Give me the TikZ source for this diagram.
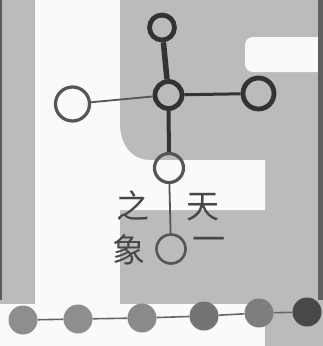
\documentclass[tikz,border=0pt]{standalone}
\usepackage{fontspec}
\newfontfamily\cjk{Noto Sans CJK TC}
\definecolor{paper}{HTML}{BBBBBB}
\definecolor{white2}{HTML}{FAFAFA}
\definecolor{ink}{HTML}{333333}
\definecolor{inkl}{HTML}{555555}
\begin{document}
\begin{tikzpicture}[x=1pt,y=-1pt,
  ring/.style={circle,draw=ink,line width=4.8pt,minimum size=27pt,inner sep=0pt},
  thinring/.style={circle,draw=inkl,line width=3.2pt,minimum size=29pt,inner sep=0pt},
  dot/.style={circle,minimum size=29pt,inner sep=0pt},
  glyph/.style={font=\cjk\fontsize{33}{33}\selectfont,text=ink!90,inner sep=0pt}]
\useasboundingbox (0,0) rectangle (323,346);
% background
\fill[paper] (0,0) rectangle (323,346);
\fill[white2] (35,0) rectangle (120,305);
\fill[white2] (120,127) .. controls (122,150) and (135,160) .. (150,160) -- (265,160) -- (265,210) -- (120,210) -- cycle;
\fill[white2, rounded corners=8pt] (245,37) rectangle (330,72);
\fill[white2] (0,304) rectangle (265,346);
\fill[gray!75!black] (318,0) rectangle (323,300);
\fill[gray!70!black] (0,0) rectangle (2,300);
% upper figure
\node[ring] (c) at (168.5,95) {};
\node[ring,minimum size=25pt] (t) at (162,27.5) {};
\node[ring,minimum size=31pt] (r) at (258.5,93.5) {};
\node[thinring,minimum size=34pt] (l) at (72.5,104) {};
\node[thinring] (lo) at (169,168) {};
\node[thinring,line width=2.6pt] (b) at (171,249) {};
\draw[ink,line width=5.5pt] (t) -- (c);
\draw[ink,line width=3pt] (c) -- (r);
\draw[inkl,line width=1.8pt] (c) -- (l);
\draw[ink,line width=4pt] (c) -- (lo);
\draw[inkl,line width=1.8pt] (lo) -- (b);
% labels
\node[glyph] (tian) at (203,207) {天};
\node[glyph] (yi) at (209,244) {一};
\node[glyph] (zhi) at (133,206) {之};
\node[glyph] (xiang) at (129,250) {象};
% bottom row
\definecolor{d1c}{HTML}{8E8E8E}
\definecolor{d3c}{HTML}{8A8A8A}
\definecolor{d4c}{HTML}{747474}
\definecolor{d5c}{HTML}{7E7E7E}
\definecolor{d6c}{HTML}{484848}
\node[dot,fill=d1c] (d1) at (23,320) {};
\node[dot,fill=d1c] (d2) at (78,319) {};
\node[dot,fill=d3c] (d3) at (142,318) {};
\node[dot,fill=d4c] (d4) at (204,316) {};
\node[dot,fill=d5c] (d5) at (259,313) {};
\node[dot,fill=d6c] (d6) at (307,312) {};
\draw[gray!80!black,line width=1.6pt] (d1) -- (d2) -- (d3) -- (d4) -- (d5) -- (d6);
\end{tikzpicture}
\end{document}
